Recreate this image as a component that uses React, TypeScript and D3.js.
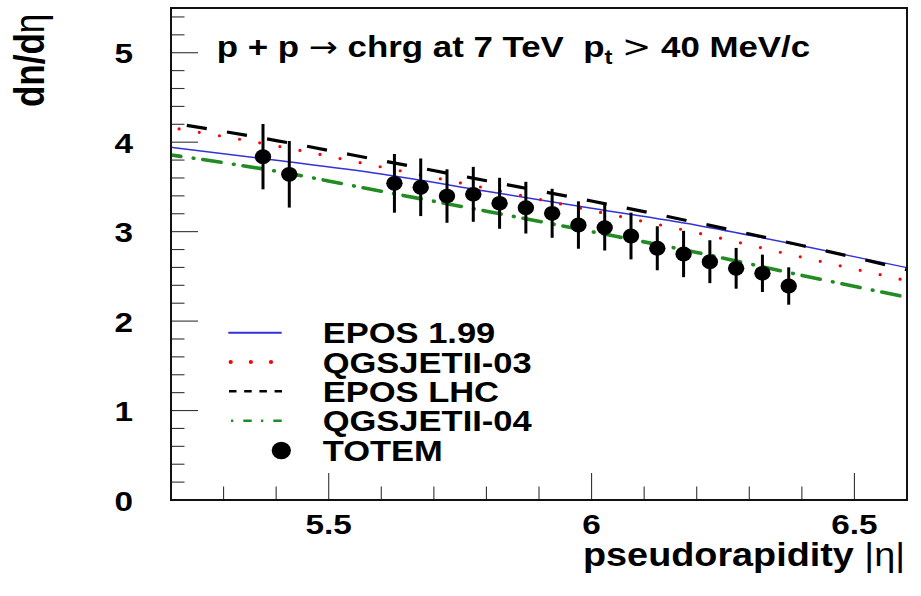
import React from "react";
import * as d3 from "d3";

const W = 921;
const H = 596;
const SX = 1.19;

// TOTEM data
const etaData = [5.375, 5.425, 5.625, 5.675, 5.725, 5.775, 5.825, 5.875, 5.925, 5.975, 6.025, 6.075, 6.125, 6.175, 6.225, 6.275, 6.325, 6.375];
const totem = [3.838, 3.641, 3.54, 3.496, 3.398, 3.417, 3.317, 3.268, 3.205, 3.074, 3.045, 2.951, 2.814, 2.75, 2.664, 2.59, 2.534, 2.392];
const totemErr = [0.365, 0.372, 0.328, 0.322, 0.299, 0.307, 0.285, 0.289, 0.274, 0.265, 0.256, 0.261, 0.246, 0.259, 0.24, 0.228, 0.209, 0.209];

// Model curves
const modelEta = [5.2, 5.4, 5.6, 5.8, 6.0, 6.2, 6.4, 6.6];
const epos199 = [3.943, 3.798, 3.644, 3.452, 3.261, 3.072, 2.842, 2.597];
const qgsjet03 = [4.163, 3.959, 3.723, 3.485, 3.236, 2.987, 2.714, 2.452];
const eposLHC = [4.217, 4.018, 3.795, 3.569, 3.342, 3.101, 2.845, 2.574];
const qgsjet04 = [3.857, 3.676, 3.451, 3.228, 3.0, 2.767, 2.511, 2.266];

const xMajor = [5.5, 6.0, 6.5];
const xMajorLabels = ["5.5", "6", "6.5"];
const yMajor = [0, 1, 2, 3, 4, 5];
const yMajorLabels = ["0", "1", "2", "3", "4", "5"];
const legendLabels = ["EPOS 1.99", "QGSJETII-03", "EPOS LHC", "QGSJETII-04", "TOTEM"];

const FONT = "'Liberation Sans', Arial, Helvetica, sans-serif";
const SYM = "'DejaVu Sans', sans-serif";

const left = 171;
const right = 907;
const top = 8;
const bottom = 500;

const x = d3.scaleLinear().domain([5.2, 6.6]).range([left, right]);
const y = d3.scaleLinear().domain([0, 5.5]).range([bottom, top]);

function T(props: any) {
  const { x: tx, y: ty, anchor = "start", size = 29, weight = "bold", children, rotate, sx = SX, len } = props;
  const tr = `translate(${tx},${ty}) scale(${sx},1)` + (rotate ? ` rotate(${rotate})` : "");
  return (
    <text
      transform={tr}
      textAnchor={anchor}
      fontSize={size}
      fontWeight={weight}
      fontFamily={FONT}
      fill="#000"
      style={{ whiteSpace: "pre" }}
      textLength={len}
      lengthAdjust={len ? "spacingAndGlyphs" : undefined}
    >
      {children}
    </text>
  );
}

export default function App() {
  const line = (vals: number[]) =>
    d3
      .line<number>()
      .x((_, i) => x(modelEta[i]))
      .y((v) => y(v))
      .curve(d3.curveMonotoneX)(vals) as string;

  const xMinor = d3.range(5.3, 6.61, 0.1).filter((v) => !xMajor.some((m) => Math.abs(m - v) < 1e-6));
  const yMinor = d3.range(0.2, 5.5, 0.2).filter((v) => !yMajor.some((m) => Math.abs(m - v) < 1e-6));

  const rows = [332.7, 362, 391.3, 420.7, 450.5];

  return (
    <svg
      width={W}
      height={H}
      style={{ position: "absolute", left: 0, top: 0, background: "#fff" }}
    >
      <rect x={0} y={0} width={W} height={H} fill="#fff" />
      <defs>
        <clipPath id="plotclip">
          <rect x={left} y={top} width={right - left} height={bottom - top} />
        </clipPath>
      </defs>

      {/* model curves */}
      <g clipPath="url(#plotclip)" fill="none">
        <path d={line(epos199)} stroke="#3232d8" strokeWidth={1.4} />
        <path
          d={line(qgsjet03)}
          stroke="#ff0000"
          strokeWidth={3.2}
          strokeLinecap="round"
          strokeDasharray="0 20.46"
          strokeDashoffset={12.26}
        />
        <path
          d={line(eposLHC)}
          stroke="#000"
          strokeWidth={3.2}
          strokeDasharray="20.3 20.4"
          strokeDashoffset={24.7}
        />
        <path
          d={line(qgsjet04)}
          stroke="#228b22"
          strokeWidth={3.6}
          strokeLinecap="round"
          strokeDasharray="18.5 12.5 0.7 9"
          strokeDashoffset={8.6}
        />
      </g>

      {/* TOTEM data */}
      <g>
        {etaData.map((e, i) => (
          <g key={i}>
            <line
              x1={x(e)}
              x2={x(e)}
              y1={y(totem[i] - totemErr[i])}
              y2={y(totem[i] + totemErr[i])}
              stroke="#000"
              strokeWidth={3}
            />
            <ellipse cx={x(e)} cy={y(totem[i])} rx={8.2} ry={7.4} fill="#000" />
          </g>
        ))}
      </g>

      {/* ticks */}
      <g stroke="#333" strokeWidth={1.1}>
        {yMajor.map((v) => (
          <line key={"ym" + v} x1={left} x2={left + 27} y1={y(v)} y2={y(v)} />
        ))}
        {yMinor.map((v, i) => (
          <line key={"yn" + i} x1={left} x2={left + 13.5} y1={y(v)} y2={y(v)} />
        ))}
        {xMajor.map((v) => (
          <line key={"xm" + v} x1={x(v)} x2={x(v)} y1={bottom} y2={bottom - 27} />
        ))}
        {xMinor.map((v, i) => (
          <line key={"xn" + i} x1={x(v)} x2={x(v)} y1={bottom} y2={bottom - 13.5} />
        ))}
      </g>

      {/* frame */}
      <rect x={left} y={top} width={right - left} height={bottom - top} fill="none" stroke="#111" strokeWidth={2} />

      {/* tick labels */}
      {yMajor.map((v, i) => (
        <T key={"yl" + v} x={133} y={y(v) + 10.5} anchor="end" size={28}>
          {yMajorLabels[i]}
        </T>
      ))}
      {xMajor.map((v, i) => (
        <T key={"xl" + v} x={x(v)} y={534} anchor="middle" size={28}>
          {xMajorLabels[i]}
        </T>
      ))}

      {/* axis titles */}
      <T x={905} y={566} anchor="end" size={34} sx={1} len={322}>
        {"pseudorapidity "}
        <tspan fontWeight="normal">|η|</tspan>
      </T>
      <T x={44} y={107} anchor="start" size={35} rotate={-90}>
        {"dn/d"}
        <tspan fontWeight="normal">η</tspan>
      </T>

      {/* title */}
      <T x={216.7} y={57} size={29.3}>
        {"p + p "}
        <tspan fontWeight="normal" fontFamily={SYM}>→</tspan>
        {" chrg at 7 TeV  p"}
        <tspan fontSize={20} dy={7}>t</tspan>
        <tspan dy={-7}>{" "}</tspan>
        <tspan fontWeight="normal" fontFamily={SYM}>{">"}</tspan>
        {" 40 MeV/c"}
      </T>

      {/* legend */}
      <g fill="none">
        <line x1={228.3} x2={281.7} y1={rows[0]} y2={rows[0]} stroke="#3232d8" strokeWidth={2} />
        <line
          x1={230.7}
          x2={272}
          y1={rows[1]}
          y2={rows[1]}
          stroke="#ff0000"
          strokeWidth={4.2}
          strokeLinecap="round"
          strokeDasharray="0 20.15"
        />
        <line x1={229} x2={282} y1={rows[2]} y2={rows[2]} stroke="#000" strokeWidth={2.6} strokeDasharray="7.5 7.7" />
        <line
          x1={231}
          x2={282}
          y1={rows[3]}
          y2={rows[3]}
          stroke="#228b22"
          strokeWidth={2.6}
          strokeDasharray="2.3 10 8.4 9.3"
        />
        <ellipse cx={281.3} cy={rows[4]} rx={9.6} ry={8.8} fill="#000" />
      </g>
      {legendLabels.map((l, i) => (
        <T key={l} x={322.7} y={rows[i] + 10.5} size={29}>
          {l}
        </T>
      ))}
    </svg>
  );
}
